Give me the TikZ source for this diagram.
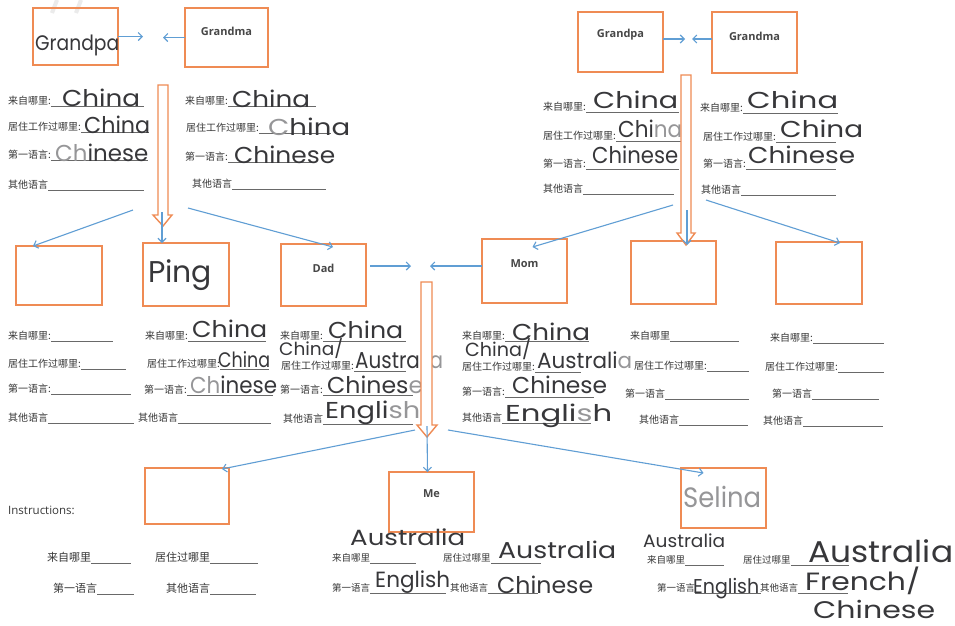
\documentclass[tikz,border=0pt]{standalone}
\usepackage{fontspec}
\usepackage{graphicx}
\usetikzlibrary{arrows.meta}
\setmainfont{Open Sans}
\newfontfamily\cjkfont{Noto Sans CJK SC}
\newfontfamily\handfont{Poppins}
\definecolor{boxo}{RGB}{239,139,84}
\definecolor{linkb}{RGB}{96,158,212}
\definecolor{inkc}{RGB}{55,55,58}
\definecolor{inkl}{RGB}{150,150,152}
\definecolor{labc}{RGB}{55,55,55}
\definecolor{rulec}{RGB}{105,105,105}
% printed label followed by an answer line, total width #1
\newcommand\fld[2]{\makebox[#1pt][l]{#2\textcolor{rulec}{\leaders\hbox{\rule[-2.6pt]{0.5pt}{0.6pt}}\hfill}}}
% handwritten answer squeezed to width #1
\newcommand\hw[2]{\resizebox{#1pt}{\height}{#2}}
\newcommand\lt[1]{\textcolor{inkl}{#1}}
\tikzset{
  fam/.style={draw=boxo, line width=1.6pt, inner sep=0pt, outer sep=0pt},
  boxtitle/.style={font=\bfseries\fontsize{11}{11}\selectfont, text=black!72, inner sep=0pt},
  lab/.style={anchor=base west, inner sep=0pt, text=labc, font=\cjkfont\fontsize{10}{10}\selectfont},
  labbig/.style={lab, font=\cjkfont\fontsize{11}{11}\selectfont},
  labsmall/.style={lab, font=\cjkfont\fontsize{9.5}{9.5}\selectfont},
  ink/.style={anchor=base west, inner sep=0pt, text=inkc, font=\handfont\fontsize{#1}{#1}\selectfont},
  ink/.default=23,
  link/.style={draw=linkb, line width=1.1pt, -{Straight Barb[length=4pt,width=8pt]}},
  hollow/.style={draw=boxo, line width=1.4pt, fill=white, line join=miter}
}
\begin{document}
\begin{tikzpicture}[x=1pt,y=-1pt]
\fill[white] (0,0) rectangle (955,625);
\useasboundingbox (0,0) rectangle (955,625);

% faint marks in the top corner
\draw[black!8, line width=4pt] (52,13) -- (57,0) (76,13) -- (81,0);

% ---------- family boxes ----------
\node[fam, minimum width=85pt, minimum height=57pt] (lgp) at (75.5,36.5) {};
\node[fam, minimum width=83pt, minimum height=59pt] (lgm) at (226.5,37.5) {};
\node[fam, minimum width=85pt, minimum height=60pt] (rgp) at (620.5,42) {};
\node[fam, minimum width=85pt, minimum height=61pt] (rgm) at (754.5,42.5) {};
\node[fam, minimum width=86pt, minimum height=59pt] (m1) at (59,275.5) {};
\node[fam, minimum width=86pt, minimum height=63pt] (ping) at (186,274.5) {};
\node[fam, minimum width=85pt, minimum height=62pt] (dad) at (323.5,275) {};
\node[fam, minimum width=85pt, minimum height=64pt] (mom) at (524.5,271) {};
\node[fam, minimum width=85pt, minimum height=63pt] (m5) at (673.5,272.5) {};
\node[fam, minimum width=86pt, minimum height=62pt] (m6) at (819,273) {};
\node[fam, minimum width=84pt, minimum height=56pt] (b1) at (187,496) {};
\node[fam, minimum width=85pt, minimum height=60pt] (me) at (431.5,502) {};
\node[fam, minimum width=85pt, minimum height=60pt] (sel) at (723.5,498) {};

% printed titles
\node[boxtitle] (tlgm) at ([yshift=-23pt]lgm.north) {Grandma};
\node[boxtitle] (trgp) at ([yshift=-23pt]rgp.north) {Grandpa};
\node[boxtitle] (trgm) at ([yshift=-24pt]rgm.north) {Grandma};
\node[boxtitle] (tdad) at ([yshift=-24pt]dad.north) {Dad};
\node[boxtitle] (tmom) at ([yshift=-25pt]mom.north) {Mom};
\node[boxtitle] (tme) at ([yshift=-22pt]me.north) {Me};
\node[anchor=base west, inner sep=0pt, text=black!78, font=\fontsize{11.5}{11.5}\selectfont] (instr) at (8,514) {Instructions:};

% handwritten names in boxes
\node[ink=21] (hgp) at (35,50) {\hw{84}{Grandpa}};
\node[ink=30] (hping) at (148,282) {\hw{64}{Ping}};
\node[ink=28] (hsel) at (683,507) {\hw{78}{\lt{Selina}}};

% ---------- printed fields ----------
% top left couple
\node[lab] (f1) at (8,104) {\fld{135}{来自哪里:}};
\node[lab] (f2) at (8,130) {\fld{140}{居住工作过哪里:}};
\node[lab] (f3) at (8,158) {\fld{139}{第一语言:}};
\node[lab] (f4) at (8,188) {\fld{135}{其他语言}};
\node[lab] (f5) at (185,104) {\fld{130}{来自哪里:}};
\node[lab] (f6) at (186,131) {\fld{144}{居住工作过哪里:}};
\node[lab] (f7) at (185,160) {\fld{128}{第一语言:}};
\node[lab] (f8) at (192,187) {\fld{133}{其他语言}};
% top right couple
\node[lab] (f9) at (543,110) {\fld{135}{来自哪里:}};
\node[lab] (f10) at (543,139) {\fld{139}{居住工作过哪里:}};
\node[lab] (f11) at (543,167) {\fld{135}{第一语言:}};
\node[lab] (f12) at (543,192) {\fld{130}{其他语言}};
\node[lab] (f13) at (700,111) {\fld{137}{来自哪里:}};
\node[lab] (f14) at (703,140) {\fld{132}{居住工作过哪里:}};
\node[lab] (f15) at (703,167) {\fld{132}{第一语言:}};
\node[lab] (f16) at (701,193) {\fld{134}{其他语言}};
% middle generation
\node[lab] (f17) at (8,339) {\fld{104}{来自哪里:}};
\node[lab] (f18) at (8,367) {\fld{117}{居住工作过哪里:}};
\node[lab] (f19) at (8,392) {\fld{122}{第一语言:}};
\node[lab] (f20) at (8,421) {\fld{125}{其他语言}};
\node[lab] (f21) at (145,339) {\fld{120}{来自哪里:}};
\node[lab] (f22) at (147,367) {\fld{121}{居住工作过哪里:}};
\node[lab] (f23) at (144,393) {\fld{128}{第一语言:}};
\node[lab] (f24) at (138,421) {\fld{132}{其他语言}};
\node[lab] (f25) at (280,339) {\fld{125}{来自哪里:}};
\node[lab] (f26) at (281,369) {\fld{124}{居住工作过哪里:}};
\node[lab] (f27) at (280,393) {\fld{132}{第一语言:}};
\node[lab] (f28) at (283,422) {\fld{129}{其他语言}};
\node[lab] (f29) at (462,339) {\fld{126}{来自哪里:}};
\node[lab] (f30) at (462,370) {\fld{118}{居住工作过哪里:}};
\node[lab] (f31) at (462,395) {\fld{131}{第一语言:}};
\node[lab] (f32) at (462,421) {\fld{128}{其他语言}};
\node[lab] (f33) at (630,339) {\fld{108}{来自哪里}};
\node[lab] (f34) at (634,369) {\fld{114}{居住工作过哪里:}};
\node[lab] (f35) at (625,397) {\fld{123}{第一语言}};
\node[lab] (f36) at (639,423) {\fld{108}{其他语言}};
\node[lab] (f37) at (770,341) {\fld{113}{来自哪里:}};
\node[lab] (f38) at (765,370) {\fld{118}{居住工作过哪里:}};
\node[lab] (f39) at (772,397) {\fld{106}{第一语言}};
\node[lab] (f40) at (763,424) {\fld{119}{其他语言}};
% instructions and bottom row
\node[labbig] (f41) at (47,561) {\fld{83}{来自哪里}};
\node[labbig] (f42) at (155,561) {\fld{102}{居住过哪里}};
\node[labbig] (f43) at (53,592) {\fld{80}{第一语言}};
\node[labbig] (f44) at (166,592) {\fld{89}{其他语言}};
\node[labsmall] (f45) at (332,561) {\fld{83}{来自哪里}};
\node[labsmall] (f46) at (443,561) {\fld{97}{居住过哪里}};
\node[labsmall] (f47) at (332,591) {\fld{113}{第一语言}};
\node[labsmall] (f48) at (450,591) {\fld{87}{其他语言}};
\node[labsmall] (f49) at (647,563) {\fld{76}{来自哪里}};
\node[labsmall] (f50) at (743,563) {\fld{105}{居住过哪里}};
\node[labsmall] (f51) at (657,591) {\fld{103}{第一语言}};
\node[labsmall] (f52) at (760,591) {\fld{87}{其他语言}};

% ---------- handwritten answers ----------
\node[ink] (h1) at (62,106) {\hw{78}{China}};
\node[ink] (h2) at (84,133) {\hw{66}{China}};
\node[ink] (h3) at (55,161) {\hw{93}{\lt{Ch}inese}};
\node[ink] (h4) at (232,107) {\hw{78}{China}};
\node[ink] (h5) at (268,135) {\hw{82}{\lt{C}hina}};
\node[ink] (h6) at (234,163) {\hw{101}{Chinese}};
\node[ink] (h7) at (593,108) {\hw{85}{China}};
\node[ink] (h8) at (618,137) {\hw{64}{Chi\lt{na}}};
\node[ink] (h9) at (592,163) {\hw{86}{Chinese}};
\node[ink] (h10) at (747,108) {\hw{91}{China}};
\node[ink] (h11) at (780,137) {\hw{83}{China}};
\node[ink] (h12) at (748,163) {\hw{107}{Chinese}};
\node[ink] (h14) at (192,337) {\hw{75}{China}};
\node[ink=21] (h15) at (218,367) {\hw{52}{China}};
\node[ink] (h16) at (190,393) {\hw{87}{\lt{Ch}inese}};
\node[ink] (h17) at (328,338) {\hw{75}{China}};
\node[ink=18] (h18) at (279,355) {\hw{64}{China/}};
\node[ink] (h19) at (355,368) {\hw{88}{Austra\lt{lia}}};
\node[ink] (h20) at (327,393) {\hw{96}{Chines\lt{e}}};
\node[ink] (h21) at (325,418) {\hw{95}{Engli\lt{sh}}};
\node[ink] (h22) at (512,340) {\hw{78}{China}};
\node[ink=19] (h23) at (465,356) {\hw{66}{China/}};
\node[ink=22] (h24) at (537,368) {\hw{95}{Australi\lt{a}}};
\node[ink] (h25) at (512,393) {\hw{95}{Chinese}};
\node[ink] (h26) at (505,421) {\hw{107}{Engli\lt{s}h}};
\node[ink=22] (h27) at (350,545) {\hw{115}{Australia}};
\node[ink=22] (h28) at (375,587) {\hw{75}{English}};
\node[ink] (h29) at (498,558) {\hw{118}{Australia}};
\node[ink] (h30) at (497,593) {\hw{96}{Chinese}};
\node[ink=18] (h31) at (643,547) {\hw{82}{Australia}};
\node[ink=30] (h32) at (808,562) {\hw{145}{Australia}};
\node[ink=20] (h33) at (693,593) {\hw{66}{English}};
\node[ink=25] (h34) at (805,590) {\hw{115}{French/}};
\node[ink=24] (h35) at (813,618) {\hw{122}{Chinese}};

% ---------- descent arrows (hollow) ----------
\draw[hollow] (158,85) -- (158,215) -- (153,215) -- (163,226) -- (172,215) -- (168,215) -- (168,85) -- cycle;
\draw[hollow] (681,75) -- (681,233) -- (677,233) -- (686,245) -- (695,233) -- (691,233) -- (691,75) -- cycle;
\draw[hollow] (421,282) -- (421,425) -- (417,425) -- (427,437) -- (437,425) -- (432,425) -- (432,282) -- cycle;

% ---------- couple links ----------
\coordinate (lj1) at (143,36.5);
\coordinate (lj2) at (163,37.5);
\draw[link] (lgp.east) -- (lj1);
\draw[link] (lgm.west) -- (lj2);
\coordinate (rj1) at (685,39);
\coordinate (rj2) at (692,39);
\draw[link] (rgp.east |- rj1) -- (rj1);
\draw[link] (rgm.west |- rj2) -- (rj2);
\coordinate (dj0) at ([xshift=4pt]dad.east);
\coordinate (dj1) at (411,266);
\coordinate (dj2) at (430,266);
\draw[link] (dj0 |- dj1) -- (dj1);
\draw[link] (mom.west |- dj2) -- (dj2);

% ---------- child links ----------
\coordinate (lfa) at (133,210);
\coordinate (lfb) at (162,212);
\coordinate (lfc) at (188,208);
\draw[link] (lfa) -- ([xshift=17pt]m1.north west);
\draw[link] (lfb) -- ([xshift=-24pt]ping.north);
\draw[link] (lfc) -- ([xshift=9.5pt,yshift=-3pt]dad.north);
\coordinate (rfa) at (673,205);
\coordinate (rfb) at (687,210);
\coordinate (rfc) at (706,200);
\draw[link] (rfa) -- ([xshift=8pt,yshift=-8pt]mom.north);
\draw[link] (rfb) -- ([xshift=13.5pt,yshift=-4pt]m5.north);
\draw[link] (rfc) -- ([xshift=21pt,yshift=-1pt]m6.north);
\coordinate (mfa) at (415,430);
\coordinate (mfb) at (427,426);
\coordinate (mfc) at (448,430);
\draw[link] (mfa) -- ([xshift=35pt,yshift=-1pt]b1.north);
\draw[link] (mfb) -- ([xshift=-4pt]me.north);
\draw[link] (mfc) -- ([xshift=-20pt,yshift=-5pt]sel.north);
\end{tikzpicture}
\end{document}
